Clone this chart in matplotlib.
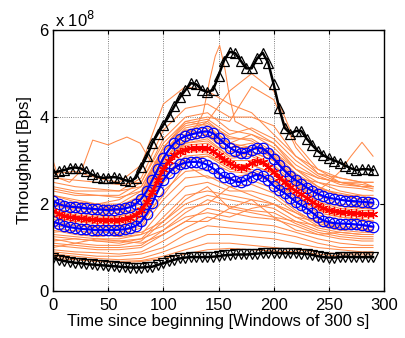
import numpy as np
import matplotlib
matplotlib.use('Agg')
import matplotlib.pyplot as plt

plt.rcParams['font.family'] = ['Liberation Sans', 'DejaVu Sans']

# summary curves, sampled every 5 windows (units of 1e8 Bps)
t = list(range(0, 295, 5))
upper = [2.08, 2.0, 1.96, 1.94, 1.93, 1.92, 1.9, 1.89, 1.88, 1.87, 1.86, 1.87, 1.88, 1.9, 1.93,
         2.0, 2.12, 2.3, 2.55, 2.8, 3.05, 3.25, 3.4, 3.5, 3.56, 3.6, 3.63, 3.66, 3.67, 3.63,
         3.52, 3.4, 3.3, 3.22, 3.17, 3.18, 3.25, 3.3, 3.28, 3.18, 3.04, 2.9, 2.76, 2.64, 2.55,
         2.47, 2.38, 2.3, 2.24, 2.18, 2.14, 2.12, 2.1, 2.08, 2.07, 2.06, 2.05, 2.04, 2.03]
mean = [1.84, 1.78, 1.73, 1.7, 1.69, 1.68, 1.66, 1.65, 1.64, 1.64, 1.63, 1.63, 1.64, 1.66, 1.69,
        1.75, 1.86, 2.04, 2.28, 2.55, 2.8, 2.98, 3.12, 3.2, 3.25, 3.28, 3.3, 3.3, 3.28, 3.22,
        3.12, 3.01, 2.95, 2.87, 2.83, 2.86, 2.94, 2.99, 2.96, 2.85, 2.73, 2.61, 2.5, 2.39, 2.3,
        2.22, 2.14, 2.05, 1.97, 1.9, 1.86, 1.84, 1.82, 1.81, 1.8, 1.79, 1.78, 1.77, 1.76]
lower = [1.6, 1.55, 1.5, 1.47, 1.45, 1.43, 1.42, 1.41, 1.4, 1.4, 1.4, 1.4, 1.41, 1.42, 1.45,
         1.5, 1.6, 1.78, 2.02, 2.3, 2.55, 2.72, 2.84, 2.91, 2.95, 2.97, 2.97, 2.95, 2.9, 2.82,
         2.72, 2.62, 2.6, 2.52, 2.5, 2.55, 2.63, 2.68, 2.65, 2.55, 2.42, 2.33, 2.25, 2.15, 2.05,
         1.97, 1.9, 1.8, 1.7, 1.62, 1.58, 1.56, 1.55, 1.55, 1.54, 1.53, 1.52, 1.5, 1.48]
top = [2.72, 2.75, 2.78, 2.82, 2.84, 2.82, 2.75, 2.68, 2.63, 2.6, 2.61, 2.62, 2.6, 2.55, 2.52,
       2.6, 2.85, 3.1, 3.4, 3.62, 3.82, 4.02, 4.25, 4.45, 4.62, 4.78, 4.75, 4.62, 4.58, 4.62,
       4.95, 5.3, 5.5, 5.47, 5.3, 5.12, 5.12, 5.35, 5.48, 5.25, 4.75, 4.2, 3.75, 3.62, 3.68,
       3.68, 3.5, 3.35, 3.22, 3.12, 3.05, 3.0, 2.95, 2.88, 2.82, 2.78, 2.8, 2.8, 2.78]
bottom = [0.76, 0.72, 0.69, 0.67, 0.65, 0.64, 0.62, 0.61, 0.6, 0.59, 0.58, 0.57, 0.56, 0.55, 0.54,
          0.54, 0.54, 0.55, 0.56, 0.6, 0.64, 0.68, 0.72, 0.75, 0.77, 0.78, 0.78, 0.78, 0.78, 0.79,
          0.8, 0.82, 0.83, 0.84, 0.84, 0.84, 0.85, 0.86, 0.87, 0.88, 0.88, 0.87, 0.87, 0.87, 0.87,
          0.86, 0.85, 0.83, 0.8, 0.78, 0.77, 0.77, 0.78, 0.79, 0.78, 0.78, 0.78, 0.78, 0.78]

# individual traces, sampled every 20 windows
tx = [0, 20, 40, 60, 80, 100, 120, 140, 160, 180, 200, 220, 240, 260, 280, 290]
traces = [
    [2.7, 2.75, 2.6, 2.5, 2.9, 4.3, 4.7, 4.6, 4.3, 4.1, 3.6, 3.1, 2.8, 2.6, 2.5, 2.5],
    [2.0, 1.9, 1.85, 1.9, 2.2, 3.0, 3.6, 3.9, 4.6, 5.0, 4.6, 3.4, 2.8, 2.5, 2.4, 2.4],
    [2.2, 2.1, 2.0, 2.1, 2.4, 3.3, 3.9, 4.0, 3.9, 4.7, 4.4, 3.3, 2.7, 2.5, 2.4, 2.4],
    [2.4, 2.3, 2.3, 2.3, 2.6, 3.7, 4.2, 4.3, 4.0, 4.0, 3.8, 3.1, 2.7, 2.6, 2.5, 2.5],
    [2.3, 2.2, 2.2, 2.2, 2.5, 3.5, 4.0, 4.1, 3.7, 3.6, 3.4, 2.9, 2.6, 2.5, 2.5, 2.4],
    [2.1, 2.0, 1.95, 1.95, 2.2, 3.3, 3.8, 3.9, 3.5, 3.5, 3.2, 2.7, 2.4, 2.2, 2.2, 2.1],
    [2.2, 2.05, 2.0, 2.0, 2.3, 3.2, 3.7, 3.75, 3.4, 3.6, 3.3, 2.8, 2.5, 2.3, 2.2, 2.2],
    [1.95, 1.9, 1.9, 1.9, 2.1, 3.1, 3.6, 3.7, 3.3, 3.3, 3.1, 2.6, 2.3, 2.2, 2.1, 2.1],
    [2.0, 1.85, 1.8, 1.85, 2.0, 3.0, 3.5, 3.6, 3.4, 3.2, 3.0, 2.5, 2.2, 2.1, 2.05, 2.0],
    [2.5, 2.4, 2.35, 2.3, 2.4, 3.2, 3.7, 3.6, 3.2, 3.2, 3.0, 2.6, 2.5, 2.4, 2.35, 2.3],
    [2.6, 2.55, 2.5, 2.45, 2.5, 3.4, 3.9, 3.8, 3.4, 3.3, 3.2, 2.8, 2.6, 2.5, 2.45, 2.4],
    [1.9, 1.8, 1.75, 1.8, 1.9, 2.9, 3.4, 3.5, 3.1, 3.2, 3.0, 2.5, 2.1, 1.95, 1.9, 1.9],
    [1.8, 1.7, 1.65, 1.65, 1.85, 2.8, 3.3, 3.3, 3.0, 3.0, 2.8, 2.3, 2.0, 1.85, 1.8, 1.8],
    [1.75, 1.65, 1.6, 1.6, 1.8, 2.7, 3.2, 3.2, 2.9, 2.9, 2.7, 2.2, 1.9, 1.8, 1.75, 1.75],
    [1.7, 1.6, 1.55, 1.55, 1.75, 2.65, 3.1, 3.15, 2.85, 2.8, 2.6, 2.15, 1.85, 1.75, 1.7, 1.7],
    [1.85, 1.75, 1.7, 1.7, 1.9, 2.9, 3.35, 3.4, 3.05, 3.1, 2.85, 2.4, 2.05, 1.9, 1.85, 1.85],
    [1.65, 1.55, 1.5, 1.5, 1.7, 2.6, 3.05, 3.1, 2.8, 2.75, 2.55, 2.1, 1.8, 1.7, 1.65, 1.62],
    [1.9, 1.8, 1.75, 1.72, 1.95, 2.95, 3.4, 3.45, 3.1, 3.15, 2.9, 2.45, 2.1, 1.95, 1.9, 1.88],
    [1.6, 1.5, 1.48, 1.48, 1.65, 2.5, 2.95, 3.0, 2.75, 2.7, 2.5, 2.05, 1.75, 1.65, 1.6, 1.58],
    [1.45, 1.38, 1.35, 1.35, 1.5, 2.3, 2.75, 2.8, 2.55, 2.55, 2.35, 1.95, 1.65, 1.55, 1.5, 1.45],
    [1.4, 1.3, 1.25, 1.3, 1.45, 2.1, 2.6, 2.65, 2.4, 2.45, 2.25, 1.85, 1.55, 1.45, 1.42, 1.4],
    [1.3, 1.25, 1.2, 1.2, 1.3, 1.9, 2.4, 2.5, 2.3, 2.3, 2.15, 1.8, 1.5, 1.4, 1.35, 1.35],
    [1.25, 1.2, 1.15, 1.15, 1.2, 1.7, 2.2, 2.3, 2.2, 2.1, 2.0, 1.7, 1.45, 1.35, 1.3, 1.3],
    [1.2, 1.1, 1.05, 1.05, 1.15, 1.6, 2.0, 2.2, 2.1, 2.0, 1.9, 1.6, 1.4, 1.3, 1.25, 1.25],
    [1.1, 1.05, 1.0, 1.0, 1.05, 1.4, 1.8, 2.1, 1.95, 1.85, 1.8, 1.55, 1.35, 1.25, 1.2, 1.2],
    [1.05, 1.0, 0.95, 0.95, 1.0, 1.3, 1.6, 1.9, 1.8, 1.7, 1.65, 1.5, 1.3, 1.2, 1.15, 1.15],
    [0.95, 0.9, 0.88, 0.85, 0.9, 1.15, 1.45, 1.7, 1.6, 1.55, 1.5, 1.35, 1.2, 1.1, 1.05, 1.05],
    [0.9, 0.85, 0.8, 0.8, 0.85, 1.0, 1.3, 1.5, 1.45, 1.4, 1.35, 1.25, 1.1, 1.0, 1.0, 1.0],
    [0.85, 0.8, 0.75, 0.72, 0.75, 0.9, 1.1, 1.3, 1.3, 1.25, 1.2, 1.1, 1.0, 0.95, 0.9, 0.9],
    [0.8, 0.75, 0.7, 0.68, 0.7, 0.8, 0.95, 1.1, 1.1, 1.05, 1.0, 0.95, 0.9, 0.85, 0.85, 0.85],
    [1.5, 1.45, 1.4, 1.3, 1.35, 1.6, 2.1, 2.4, 1.9, 1.8, 1.7, 1.6, 1.5, 1.45, 1.4, 1.4],
    [1.35, 1.4, 1.3, 1.25, 1.3, 1.5, 1.9, 2.0, 2.4, 2.2, 2.0, 1.7, 1.6, 1.5, 1.45, 1.4],
    [1.15, 1.2, 1.15, 1.1, 1.2, 1.4, 1.7, 1.8, 1.7, 1.9, 2.0, 1.8, 1.6, 1.45, 1.4, 1.35],
    [0.75, 0.72, 0.68, 0.65, 0.68, 0.75, 0.85, 0.95, 0.98, 0.95, 0.92, 0.9, 0.85, 0.8, 0.8, 0.8],
    [1.55, 1.5, 1.45, 1.45, 1.6, 2.2, 2.9, 2.6, 2.6, 2.7, 2.5, 2.2, 1.9, 1.7, 1.65, 1.6],
    [1.0, 1.1, 1.2, 1.15, 1.1, 1.3, 1.6, 1.6, 1.9, 2.1, 1.7, 1.4, 1.3, 1.35, 1.3, 1.3],
    [2.05, 1.95, 1.9, 1.95, 2.15, 3.2, 3.75, 3.85, 3.55, 3.45, 3.15, 2.65, 2.35, 2.25, 2.15, 2.15],
    [1.78, 1.68, 1.62, 1.62, 1.82, 2.85, 3.45, 3.55, 3.2, 3.3, 3.05, 2.55, 2.2, 2.0, 1.95, 1.95],
    [2.35, 2.25, 2.2, 2.15, 2.3, 3.3, 3.85, 3.95, 3.6, 3.75, 3.5, 3.0, 2.65, 2.45, 2.4, 2.35],
]

# traces that need finer sampling
hump_x = [0, 5, 15, 26, 36, 45, 50, 58, 67, 79, 88, 100, 120, 140, 160, 180, 200, 220, 240, 260, 280, 290]
hump_y = [3.0, 2.6, 2.5, 2.78, 3.47, 3.4, 3.36, 3.45, 3.54, 3.4, 3.0, 2.9, 3.5, 3.6, 3.3, 3.4, 3.1, 2.5, 2.2, 2.1, 2.0, 2.0]
spike_x = [0, 20, 40, 60, 80, 100, 120, 130, 136, 142, 147, 151, 156, 160, 165, 180, 200, 220, 240, 260, 280, 290]
spike_y = [1.9, 1.8, 1.75, 1.8, 2.1, 3.0, 3.6, 3.8, 4.09, 4.85, 5.4, 5.65, 5.08, 4.46, 3.9, 3.7, 3.4, 2.8, 2.4, 2.2, 2.1, 2.1]
bump_x = [0, 20, 40, 60, 80, 100, 120, 140, 160, 180, 200, 220, 240, 250, 260, 270, 280, 290]
bump_y = [1.7, 1.6, 1.6, 1.6, 1.8, 2.6, 3.0, 3.1, 2.9, 2.9, 2.7, 2.4, 2.3, 2.5, 2.75, 3.1, 3.42, 3.1]

orange = '#ff8a4a'

fig = plt.figure(figsize=(4.06, 3.38), dpi=100)
ax = fig.add_axes([0.1305, 0.139, 0.8155, 0.772])

for tr in traces:
    ax.plot(tx, tr, color=orange, lw=0.75)
ax.plot(hump_x, hump_y, color=orange, lw=0.75)
ax.plot(spike_x, spike_y, color=orange, lw=0.75)
ax.plot(bump_x, bump_y, color=orange, lw=0.75)

ax.plot(t, top, color='k', lw=1.8, marker='^', ms=7.5, mfc='none', mec='k', mew=0.9)
ax.plot(t, bottom, color='k', lw=1.8, marker='v', ms=7.5, mfc='none', mec='k', mew=0.9)
ax.plot(t, upper, color='b', lw=1.6, marker='o', ms=7.5, mfc='none', mec='b', mew=0.9)
ax.plot(t, lower, color='b', lw=1.6, marker='o', ms=7.5, mfc='none', mec='b', mew=0.9)
ax.plot(t, mean, color='r', lw=2.2, marker=(6, 2, 0), ms=6.5, mec='r', mew=0.9)

ax.set_xlim(0, 300)
ax.set_ylim(0, 6)
ax.set_xticks(range(0, 301, 50))
ax.set_yticks([0, 2, 4, 6])
ax.grid(True, ls=':', color='#555555', lw=0.6)
ax.tick_params(direction='in', top=True, right=True, labelsize=12, length=3, pad=3)
ax.tick_params(axis='x', pad=5)
for s in ax.spines.values():
    s.set_linewidth(1.0)
ax.text(0.005, 1.0, r'x 10$^{8}$', transform=ax.transAxes, fontsize=12, va='bottom', ha='left')
ax.set_xlabel('Time since beginning [Windows of 300 s]', fontsize=12, labelpad=1)
ax.set_ylabel('Throughput [Bps]', fontsize=12, labelpad=5)

plt.savefig('out.png', dpi=100)
